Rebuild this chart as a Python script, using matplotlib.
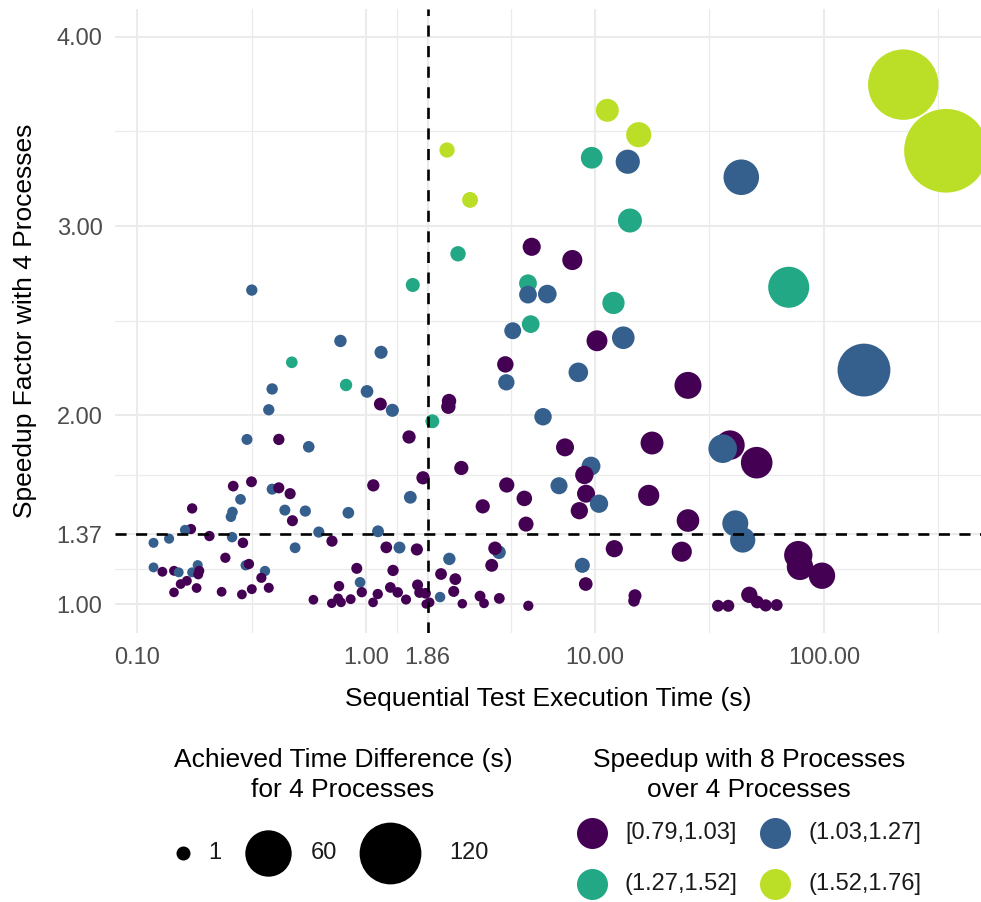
import matplotlib
matplotlib.use('Agg')
import matplotlib.pyplot as plt
from matplotlib.lines import Line2D
from matplotlib.ticker import NullFormatter
import numpy as np

plt.rcParams['font.family'] = ['Liberation Sans', 'DejaVu Sans']

# sequential execution time (s), speedup with 4 processes, bin of speedup 8 vs 4
seq_time = [
    0.317, 1.60, 0.773, 1.163, 0.474, 0.389, 0.818, 1.01, 1.155, 1.303,
    0.376, 1.948, 2.304, 2.288, 0.302, 0.416, 0.562, 1.541, 1.773, 0.263,
    0.316, 0.389, 0.416, 0.466, 1.076, 1.561, 0.283, 0.174, 0.261, 0.257,
    0.442, 0.543, 0.477, 0.837, 0.172, 0.162, 0.622, 1.128, 0.207, 0.260,
    0.138, 0.118, 0.290, 0.710, 0.490, 1.226, 1.40, 1.667, 2.311, 0.243,
    0.298, 0.308, 0.118, 0.129, 0.145, 0.152, 0.184, 0.174, 0.187, 0.185,
    0.165, 0.155, 0.362, 0.349, 0.911, 1.312, 2.126, 0.942, 0.145, 0.182,
    0.234, 0.287, 0.317, 0.376, 0.762, 1.679, 0.589, 0.708, 0.755, 0.778,
    0.857, 0.958, 1.073, 1.125, 1.277, 1.375, 1.495, 1.713, 1.819, 1.894,
    1.828, 2.105, 14.21, 5.291, 7.960, 2.522, 5.097, 5.097, 6.19, 12.04,
    5.238, 4.372, 10.20, 13.29, 4.058, 4.100, 8.455, 25.47, 5.929, 7.396,
    17.74, 2.607, 9.605, 8.982, 4.116, 6.963, 9.136, 10.41, 17.16, 3.233,
    4.912, 8.541, 4.997, 25.47, 3.809, 3.659, 12.14, 23.93, 3.539, 8.802,
    2.455, 9.108, 2.415, 2.633, 3.147, 3.276, 3.82, 5.113, 14.95, 14.80,
    11.32, 15.52, 9.674, 13.90, 43.53, 70.13, 221.9, 341.0, 2.258, 2.846,
    149.5, 38.86, 36.11, 50.83, 40.99, 44.16, 77.23, 78.56, 98.0, 34.44,
    38.2, 47.19, 51.13, 55.66, 62.15,
]
speedup_4 = [
    2.661, 2.688, 2.392, 2.332, 2.279, 2.138, 2.159, 2.125, 2.058, 2.025,
    2.028, 1.967, 2.074, 2.044, 1.871, 1.871, 1.832, 1.884, 1.668, 1.624,
    1.647, 1.608, 1.615, 1.584, 1.628, 1.565, 1.554, 1.506, 1.487, 1.462,
    1.497, 1.492, 1.441, 1.483, 1.397, 1.392, 1.381, 1.385, 1.360, 1.354,
    1.346, 1.324, 1.324, 1.333, 1.298, 1.300, 1.299, 1.289, 1.239, 1.245,
    1.205, 1.212, 1.194, 1.171, 1.176, 1.168, 1.206, 1.168, 1.176, 1.157,
    1.123, 1.106, 1.175, 1.139, 1.189, 1.178, 1.159, 1.115, 1.062, 1.085,
    1.065, 1.051, 1.079, 1.086, 1.095, 1.101, 1.023, 1.004, 1.030, 1.009,
    1.026, 1.063, 1.009, 1.053, 1.088, 1.062, 1.024, 1.061, 1.057, 1.009,
    1.000, 1.037, 3.029, 2.890, 2.820, 2.853, 2.697, 2.637, 2.640, 2.593,
    2.481, 2.446, 2.393, 2.409, 2.268, 2.173, 2.226, 2.157, 1.991, 1.829,
    1.852, 1.720, 1.730, 1.683, 1.630, 1.626, 1.584, 1.531, 1.575, 1.517,
    1.559, 1.494, 1.423, 1.442, 1.274, 1.295, 1.293, 1.277, 1.205, 1.205,
    1.132, 1.106, 1.067, 1.002, 1.042, 1.004, 1.030, 0.991, 1.044, 1.017,
    3.612, 3.483, 3.361, 3.340, 3.258, 2.676, 3.748, 3.398, 3.402, 3.138,
    2.238, 1.841, 1.822, 1.748, 1.427, 1.339, 1.259, 1.197, 1.150, 0.991,
    0.991, 1.049, 1.011, 0.993, 0.995,
]
speedup_8_bin = [
    1, 2, 1, 1, 2, 1, 2, 1, 0, 1,
    1, 2, 0, 0, 1, 0, 1, 0, 0, 0,
    0, 1, 0, 0, 0, 1, 1, 0, 1, 1,
    1, 1, 0, 1, 0, 1, 1, 1, 0, 1,
    1, 1, 0, 0, 1, 0, 1, 0, 1, 0,
    1, 0, 1, 0, 0, 1, 1, 1, 0, 0,
    0, 0, 1, 0, 0, 0, 0, 1, 0, 0,
    0, 0, 0, 0, 0, 0, 0, 0, 0, 0,
    0, 0, 0, 0, 0, 0, 0, 0, 0, 0,
    0, 1, 2, 0, 0, 2, 2, 1, 1, 2,
    2, 1, 0, 1, 0, 1, 1, 0, 1, 0,
    0, 0, 1, 0, 0, 1, 0, 1, 0, 0,
    0, 0, 0, 0, 1, 0, 0, 0, 0, 1,
    0, 0, 0, 0, 0, 0, 0, 0, 0, 0,
    3, 3, 2, 1, 1, 2, 3, 3, 3, 3,
    1, 0, 1, 0, 1, 1, 0, 0, 0, 0,
    0, 0, 0, 0, 0,
]

bin_labels = ['[0.79,1.03]', '(1.03,1.27]', '(1.27,1.52]', '(1.52,1.76]']
bin_colors = ['#440154', '#355F8D', '#22A884', '#BBDF27']

median_time = 1.86
median_speedup = 1.37

x_ticks = [0.1, 1, 1.86, 10, 100]
x_tick_labels = ['0.10', '1.00', '1.86', '10.00', '100.00']
y_ticks = [1, 1.37, 2, 3, 4]
y_tick_labels = ['1.00', '1.37', '2.00', '3.00', '4.00']
size_breaks = [1, 60, 120]

DPI = 100
W, H = 981, 902
GRID = '#EBEBEB'


def diam_pt(diff):
    # circle diameter grows with sqrt of the time difference (px -> pt)
    return (9.2 + 4.8 * np.sqrt(diff)) * 72 / DPI


def fig_xy(px, py):
    return px / W, 1 - py / H


seq_time = np.array(seq_time)
speedup_4 = np.array(speedup_4)
time_diff = np.abs(seq_time - seq_time / speedup_4)
colors = [bin_colors[b] for b in speedup_8_bin]

fig = plt.figure(figsize=(W / DPI, H / DPI), dpi=DPI)
ax = fig.add_axes([115 / W, 1 - 633 / H, (W - 115) / W, (633 - 9) / H])

ax.scatter(seq_time, speedup_4, s=diam_pt(time_diff) ** 2, c=colors,
           linewidths=0, zorder=3)

ax.axhline(median_speedup, color='black', lw=1.9, dashes=(4.2, 3.6), zorder=4)
ax.axvline(median_time, color='black', lw=1.9, dashes=(4.2, 3.6), zorder=4)

ax.set_xscale('log')
ax.set_xlim(0.0801, 485)
ax.set_ylim(0.847, 4.148)

# minor grid at the midpoints of the major breaks (log midpoints on x)
lx = np.log10(x_ticks)
x_minor = list(10 ** ((lx[:-1] + lx[1:]) / 2)) + [10 ** (lx[-1] + 0.5)]
y_minor = [(a + b) / 2 for a, b in zip(y_ticks[:-1], y_ticks[1:])]

ax.set_xticks(x_ticks)
ax.set_xticklabels(x_tick_labels)
ax.set_xticks(x_minor, minor=True)
ax.xaxis.set_minor_formatter(NullFormatter())
ax.set_yticks(y_ticks)
ax.set_yticklabels(y_tick_labels)
ax.set_yticks(y_minor, minor=True)

ax.grid(which='major', color=GRID, lw=1.5, zorder=0)
ax.grid(which='minor', color=GRID, lw=0.9, zorder=0)
ax.set_axisbelow(True)
for sp in ax.spines.values():
    sp.set_visible(False)
ax.tick_params(which='both', length=0)
ax.tick_params(axis='x', labelsize=17, labelcolor='#4D4D4D', pad=10)
ax.tick_params(axis='y', labelsize=17, labelcolor='#4D4D4D', pad=9)

ax.set_xlabel('Sequential Test Execution Time (s)', fontsize=19, labelpad=13)
ax.set_ylabel('Speedup Factor with 4 Processes', fontsize=19, labelpad=14)

# size legend
fig.text(*fig_xy(343, 775), 'Achieved Time Difference (s)\nfor 4 Processes',
         ha='center', va='center', fontsize=19, linespacing=1.3)
size_key_x = [183, 268, 390]
size_text_x = [208, 311, 449]
for v, kx, tx in zip(size_breaks, size_key_x, size_text_x):
    fig.add_artist(Line2D([kx / W], [1 - 853 / H], marker='o', ls='',
                          color='black', markersize=diam_pt(v), mew=0,
                          transform=fig.transFigure))
    fig.text(*fig_xy(tx, 853), str(v), ha='left', va='center', fontsize=17,
             color='#1A1A1A')

# colour legend
fig.text(*fig_xy(749, 775), 'Speedup with 8 Processes\nover 4 Processes',
         ha='center', va='center', fontsize=19, linespacing=1.3)
col_key_x = [592, 775]
row_y = [833, 884]
for i, (lab, col) in enumerate(zip(bin_labels, bin_colors)):
    kx = col_key_x[i % 2]
    ky = row_y[i // 2]
    fig.add_artist(Line2D([kx / W], [1 - ky / H], marker='o', ls='',
                          color=col, markersize=31 * 72 / DPI, mew=0,
                          transform=fig.transFigure))
    fig.text(*fig_xy(kx + 33, ky), lab, ha='left', va='center', fontsize=17,
             color='#1A1A1A')

fig.savefig('out.png', dpi=DPI)
